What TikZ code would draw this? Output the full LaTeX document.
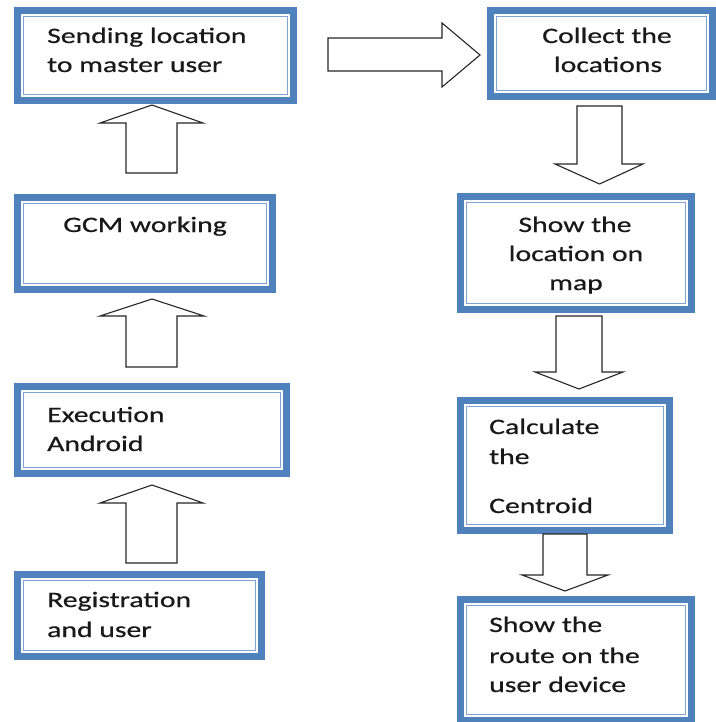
\documentclass[tikz,border=0pt]{standalone}
\usepackage{fontspec}
\setmainfont{Carlito}[FakeStretch=1.35,FakeBold=0.6]
\begin{document}
\begin{tikzpicture}[x=1pt,y=-1pt,
  outerbox/.style={draw=boxblue, line width=7pt, fill=white, inner sep=0pt, outer sep=0pt},
  innerline/.style={draw=thinblue, line width=1.2pt},
  blockarrow/.style={draw=black!85, line width=1.1pt, fill=white, line join=miter},
  txt/.style={inner sep=0pt, font=\fontsize{22}{29}\selectfont, text=black!90}
]
\definecolor{boxblue}{HTML}{4F81BD}
\definecolor{thinblue}{HTML}{7FA3D3}
\useasboundingbox (0,0) rectangle (715,722);
\newcommand{\bx}[5]{%
  \node[outerbox, minimum width={#4-#2-7}, minimum height={#5-#3-7}] (#1) at ({(#2+#4)/2},{(#3+#5)/2}) {};
  \draw[innerline] ({#2+9.5},{#3+9.5}) rectangle ({#4-9.5},{#5-9.5});
}
% boxes
\bx{send}{14}{7}{297}{104}
\bx{collect}{487}{7}{716}{100}
\bx{showloc}{457}{193}{695}{313}
\bx{calc}{457}{397}{673}{534}
\bx{route}{457}{596}{695}{724}
\bx{gcm}{14}{194}{276}{293}
\bx{exec}{14}{383}{290}{477}
\bx{reg}{14}{571}{265}{660}
% texts
\node[txt, anchor=base west] (sendA) at (47,43) {Sending location};
\node[txt, anchor=base west] (sendB) at (47,72) {to master user};
\node[txt, anchor=base] (collA) at (607,43) {Collect the};
\node[txt, anchor=base] (collB) at (608,72) {locations};
\node[txt, anchor=base] (slA) at (575,232) {Show the};
\node[txt, anchor=base] (slB) at (576,261) {location on};
\node[txt, anchor=base] (slC) at (576,290) {map};
\node[txt, anchor=base] (gcmA) at (145,232) {GCM working};
\node[txt, anchor=base west] (exA) at (47,422) {Execution};
\node[txt, anchor=base west] (exB) at (47,451) {Android};
\node[txt, anchor=base west] (rgA) at (47,607) {Registration};
\node[txt, anchor=base west] (rgB) at (47,637) {and user};
\node[txt, anchor=base west] (caA) at (489,434) {Calculate};
\node[txt, anchor=base west] (caB) at (489,464) {the};
\node[txt, anchor=base west] (caC) at (489,513) {Centroid};
\node[txt, anchor=base west] (roA) at (489,632) {Show the};
\node[txt, anchor=base west] (roB) at (489,663) {route on the};
\node[txt, anchor=base west] (roC) at (489,692) {user device};
% block arrows
\draw[blockarrow] (328,38) -- (442,38) -- (442,23) -- (480,55) -- (442,87) -- (442,71) -- (328,71) -- cycle;
\draw[blockarrow] (577,106) -- (577,164) -- (555,164) -- (599.5,184) -- (643,164) -- (622,164) -- (622,106) -- cycle;
\draw[blockarrow] (556,316) -- (556,372) -- (535,372) -- (579,389) -- (623,372) -- (602,372) -- (602,316) -- cycle;
\draw[blockarrow] (543,534) -- (543,575) -- (522,575) -- (565,591) -- (608,575) -- (587,575) -- (587,534) -- cycle;
\draw[blockarrow] (126,563) -- (126,503) -- (100,503) -- (152,485) -- (203,503) -- (177,503) -- (177,563) -- cycle;
\draw[blockarrow] (126,367) -- (126,316) -- (100,316) -- (152,299) -- (204,316) -- (177,316) -- (177,367) -- cycle;
\draw[blockarrow] (126,173) -- (126,123) -- (100,123) -- (152,105) -- (203,123) -- (177,123) -- (177,173) -- cycle;
\end{tikzpicture}
\end{document}
